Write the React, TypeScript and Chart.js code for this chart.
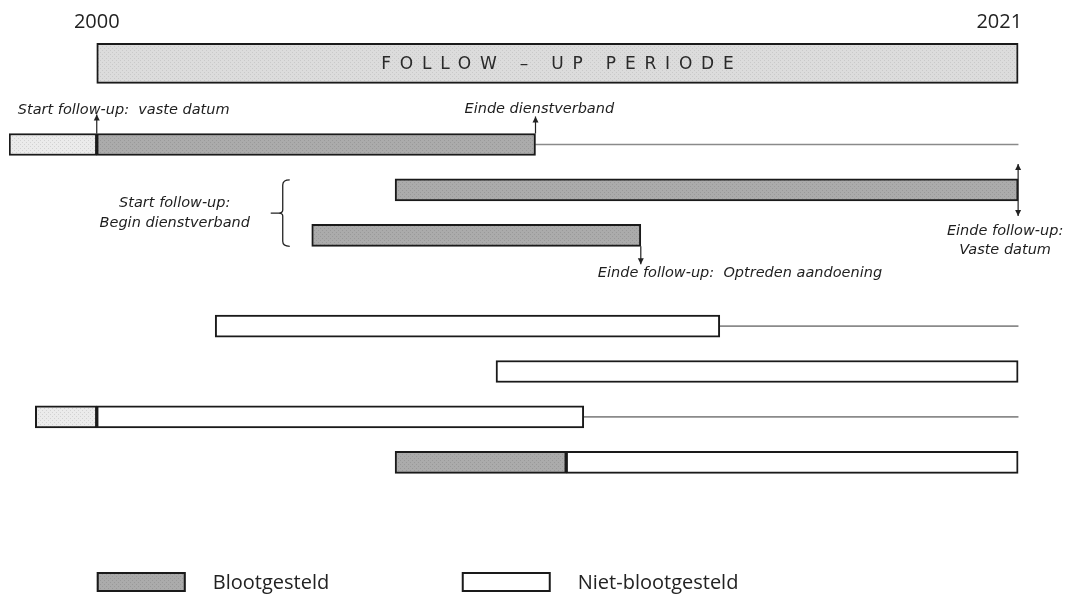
import React, { useEffect, useRef } from 'react';
import { Chart, registerables } from 'chart.js';

Chart.register(...registerables);

// ---- data ----
const headRows = ['kop', 'h1', 'h2', 'h3', 'h4', 'h5', 'h6'];
const rows = ['leeg-0', 'leeg-1', 'rij-1', 'rij-2', 'rij-3', 'leeg-2', 'rij-4', 'rij-5', 'rij-6', 'rij-7'];
const yearLabels = ['2000', '2021'];
const periodStart = 2000;
const periodEnd = 2021;
const axisMin = 1998;
const axisMax = 2022;

const headerSpan = [[2000, 2021], null, null, null, null, null, null];
const preFollowUp = [null, null, [1998, 2000], null, null, null, null, null, [1998.6, 2000], null];
const exposed = [null, null, [2000, 2010], [2006.8, 2021], [2004.9, 2012.4], null, null, null, null, [2006.8, 2010.7]];
const unexposed = [null, null, null, null, null, null, [2002.7, 2014.2], [2009.1, 2021], [2000, 2011.1], [2010.7, 2021]];
const afterEnd = [null, null, [2010, 2021], null, null, null, [2014.2, 2021], null, [2011.1, 2021], null];

const headerTitle = 'FOLLOW – UP PERIODE';
const legendLabels = ['Blootgesteld', 'Niet-blootgesteld'];
const noteStartFixed = 'Start follow-up:  vaste datum';
const noteEndEmployment = 'Einde dienstverband';
const noteStartEmployment = ['Start follow-up:', 'Begin dienstverband'];
const noteEndFixed = ['Einde follow-up:', 'Vaste datum'];
const noteEndDisease = 'Einde follow-up:  Optreden aandoening';

// ---- helpers ----
function makePattern(base: string, dot: string) {
  const c = document.createElement('canvas');
  c.width = 4;
  c.height = 4;
  const g = c.getContext('2d')!;
  g.fillStyle = base;
  g.fillRect(0, 0, 4, 4);
  g.fillStyle = dot;
  g.fillRect(0, 0, 1, 1);
  g.fillRect(2, 2, 1, 1);
  return g.createPattern(c, 'repeat')!;
}

function arrow(ctx: CanvasRenderingContext2D, x: number, y1: number, y2: number) {
  ctx.beginPath();
  ctx.moveTo(x, y1);
  ctx.lineTo(x, y2);
  ctx.stroke();
  const d = y2 > y1 ? 1 : -1;
  ctx.beginPath();
  ctx.moveTo(x, y2);
  ctx.lineTo(x - 3, y2 - d * 6);
  ctx.lineTo(x + 3, y2 - d * 6);
  ctx.closePath();
  ctx.fill();
}

export default function App() {
  const ref = useRef<HTMLCanvasElement>(null);

  useEffect(() => {
    document.body.style.margin = '0';
    const greyPattern = makePattern('#ababab', '#999999');
    const headerPattern = makePattern('#dcdcdc', '#c9c9c9');
    const lightPattern = makePattern('#ebebeb', '#d2d2d2');
    const border = '#1a1a1a';

    const annotations = {
      id: 'annotations',
      afterDatasetsDraw(chart: any) {
        const ctx: CanvasRenderingContext2D = chart.ctx;
        const xs = chart.scales.x;
        const ys = chart.scales.y;
        const yh = chart.scales.yHead;
        const X = (v: number) => xs.getPixelForValue(v);
        const Y = (i: number) => ys.getPixelForValue(i);
        const area = chart.chartArea;
        ctx.save();

        // year labels
        ctx.fillStyle = '#222';
        ctx.font = '20px "Open Sans"';
        ctx.textBaseline = 'middle';
        const headMid = yh.getPixelForValue(0);
        const headTop = headMid - 20;
        ctx.textAlign = 'center';
        ctx.fillText(yearLabels[0], X(periodStart), headTop - 21);
        ctx.textAlign = 'right';
        ctx.fillText(yearLabels[1], X(periodEnd) + 4, headTop - 21);

        // header title, letter-spaced
        const spacing = 8.8;
        ctx.font = '17px "DejaVu Sans"';
        ctx.fillStyle = '#2a2a2a';
        (ctx as any).letterSpacing = spacing + 'px';
        ctx.textAlign = 'left';
        const tw = ctx.measureText(headerTitle).width - spacing;
        ctx.fillText(headerTitle, (X(periodStart) + X(periodEnd)) / 2 - tw / 2, headMid + 1);
        (ctx as any).letterSpacing = '0px';

        // arrows
        ctx.strokeStyle = '#222';
        ctx.fillStyle = '#222';
        ctx.lineWidth = 1.2;
        const r1 = Y(2), r2 = Y(3), r3 = Y(4);
        const a1 = X((exposed[2] as number[])[0]);
        const a2 = X((exposed[2] as number[])[1]);
        arrow(ctx, a1, r1 - 11, r1 - 30);
        arrow(ctx, a2, r1 - 11, r1 - 28);
        const a3 = X((exposed[3] as number[])[1]);
        arrow(ctx, a3, r2, r2 - 26);
        arrow(ctx, a3, r2, r2 + 26);
        const a4 = X((exposed[4] as number[])[1]);
        arrow(ctx, a4, r3 + 11, r3 + 29);

        // brace
        const bx = X((exposed[4] as number[])[0]) - 29;
        const bTop = r2 - 10;
        const bBot = r3 + 11;
        const bMid = (bTop + bBot) / 2;
        ctx.lineWidth = 1.3;
        ctx.beginPath();
        ctx.moveTo(bx + 7, bTop);
        ctx.quadraticCurveTo(bx, bTop, bx, bTop + 5);
        ctx.lineTo(bx, bMid - 3);
        ctx.quadraticCurveTo(bx, bMid, bx - 4, bMid);
        ctx.lineTo(bx - 12, bMid);
        ctx.moveTo(bx - 4, bMid);
        ctx.quadraticCurveTo(bx, bMid, bx, bMid + 3);
        ctx.lineTo(bx, bBot - 5);
        ctx.quadraticCurveTo(bx, bBot, bx + 7, bBot);
        ctx.stroke();

        // italic notes
        ctx.fillStyle = '#1e1e1e';
        ctx.font = 'italic 14.5px "DejaVu Sans"';
        ctx.textBaseline = 'middle';
        ctx.textAlign = 'left';
        ctx.fillText(noteStartFixed, a1 - 79, r1 - 34);
        ctx.fillText(noteEndEmployment, a2 - 71, r1 - 35);
        ctx.textAlign = 'center';
        ctx.fillText(noteStartEmployment[0], X(periodStart) + 78, bMid - 10);
        ctx.fillText(noteStartEmployment[1], X(periodStart) + 78, bMid + 10);
        ctx.fillText(noteEndFixed[0], a3 - 13, r2 + 41);
        ctx.fillText(noteEndFixed[1], a3 - 13, r2 + 60);
        ctx.textAlign = 'left';
        ctx.fillText(noteEndDisease, a4 - 43, r3 + 38);

        // legend
        const ly = area.bottom + 97;
        const items = [
          { x: X(periodStart), fill: greyPattern as any, label: legendLabels[0] },
          { x: X(periodStart) + 365, fill: '#ffffff' as any, label: legendLabels[1] },
        ];
        ctx.font = '20px "Open Sans"';
        ctx.textAlign = 'left';
        items.forEach((it) => {
          ctx.fillStyle = it.fill;
          ctx.fillRect(it.x, ly - 10, 89, 20);
          ctx.strokeStyle = border;
          ctx.lineWidth = 2;
          ctx.strokeRect(it.x + 1, ly - 9, 87, 18);
          ctx.fillStyle = '#222';
          ctx.fillText(it.label, it.x + 116, ly + 1);
        });

        ctx.restore();
      },
    };

    const common = {
      grouped: false,
      borderSkipped: false,
      borderColor: border,
      borderWidth: 2,
      barThickness: 22,
      yAxisID: 'y',
    };

    const chart = new Chart(ref.current!, {
      type: 'bar',
      data: {
        labels: rows,
        datasets: [
          { label: 'Follow-up periode', data: headerSpan as any, backgroundColor: headerPattern, ...common, barThickness: 40, yAxisID: 'yHead' },
          { label: 'Voor follow-up', data: preFollowUp as any, backgroundColor: lightPattern, ...common },
          { label: legendLabels[0], data: exposed as any, backgroundColor: greyPattern, ...common },
          { label: legendLabels[1], data: unexposed as any, backgroundColor: '#ffffff', ...common },
          { label: 'Na einde', data: afterEnd as any, backgroundColor: '#8a8a8a', borderWidth: 0, barThickness: 1, grouped: false, yAxisID: 'y' },
        ],
      },
      options: {
        indexAxis: 'y',
        responsive: false,
        maintainAspectRatio: false,
        animation: false,
        events: [],
        layout: { padding: { left: 9, right: 12, top: 31, bottom: 109 } },
        scales: {
          x: { type: 'linear', min: axisMin, max: axisMax, display: false },
          y: { type: 'category', labels: rows, display: false, offset: true },
          yHead: { type: 'category', labels: headRows, display: false, offset: true, axis: 'y' },
        },
        plugins: {
          legend: { display: false },
          tooltip: { enabled: false },
        },
      } as any,
      plugins: [annotations],
    });
    return () => chart.destroy();
  }, []);

  return (
    <div style={{ width: 1074, height: 594, background: '#fff' }}>
      <canvas ref={ref} width={1074} height={594} style={{ display: 'block' }} />
    </div>
  );
}
